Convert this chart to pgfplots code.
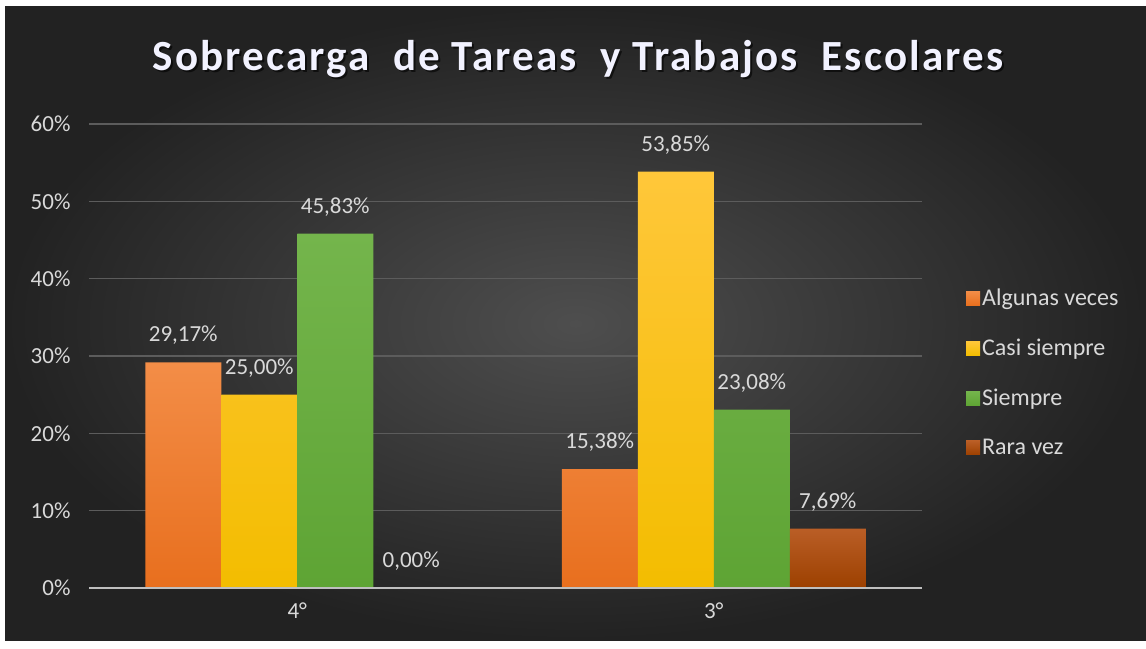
\documentclass[border=0pt]{standalone}
\usepackage{fontspec}
\setmainfont{Carlito}
\newfontfamily\titlefont[LetterSpace=5]{Carlito}
\usepackage{pgfplots}
\pgfplotsset{compat=1.18}
\definecolor{bgin}{HTML}{4E4E4E}
\definecolor{bgout}{HTML}{222222}
\definecolor{txt}{HTML}{D9D9D9}
\definecolor{gridc}{HTML}{5C5C5C}
\definecolor{axc}{HTML}{BFBFBF}
\definecolor{orT}{HTML}{F38D47}
\definecolor{orB}{HTML}{E86F1E}
\definecolor{yeT}{HTML}{FFC73A}
\definecolor{yeB}{HTML}{F3BD00}
\definecolor{grT}{HTML}{74B54C}
\definecolor{grB}{HTML}{5EA434}
\definecolor{brT}{HTML}{BA5E26}
\definecolor{brB}{HTML}{9C4000}
\begin{document}
\begin{tikzpicture}
\fill[white] (0pt,0pt) rectangle (1146pt,648pt);
\shade[inner color=bgin, outer color=bgout] (5pt,8pt) rectangle (1146pt,641pt);
\node[font=\fontsize{43}{50}\titlefont\bfseries, text=black, opacity=0.6] at (580pt,587pt) {Sobrecarga\ \ de Tareas\ \ y Trabajos\ \ Escolares};
\node[font=\fontsize{43}{50}\titlefont\bfseries, text=white!95!blue] at (578pt,589pt) {Sobrecarga\ \ de Tareas\ \ y Trabajos\ \ Escolares};
\begin{axis}[
  at={(89pt,60pt)}, anchor=south west,
  scale only axis, width=833pt, height=464pt,
  ybar=0pt, bar width=76pt,
  xmin=-0.5, xmax=1.5, ymin=0, ymax=60,
  xtick={0,1}, xticklabels={4°,3°},
  ytick={0,10,20,30,40,50,60},
  yticklabel={\pgfmathprintnumber{\tick}\%},
  /pgf/number format/assume math mode=true,
  ymajorgrids, grid style={gridc, line width=1.5pt},
  major tick length=0pt,
  axis line style={draw=none},
  axis x line*=bottom, axis y line*=left,
  ticklabel style={font=\fontsize{23}{27}\selectfont, text=txt},
  yticklabel style={xshift=-15pt},
  xticklabel style={yshift=-11pt},
  nodes near coords={\pgfmathprintnumber[use comma,fixed,fixed zerofill,precision=2]{\pgfplotspointmeta}\%},
  every node near coord/.append style={font=\fontsize{23}{27}\selectfont, text=txt, yshift=14pt},
  legend style={at={(1.0456,0.464)}, anchor=west, xshift=6pt, draw=none, fill=none,
    font=\fontsize{24}{28}\selectfont, text=txt, row sep=28pt, inner sep=0pt,
    nodes={inner sep=2pt}},
  legend cell align=left,
  legend image code/.code={\fill[#1] (0pt,-7pt) rectangle (14pt,7pt);},
  clip=false,
]
\addplot[draw=none, top color=orT, bottom color=orB] coordinates {(0,29.17) (1,15.38)};
\addplot[draw=none, top color=yeT, bottom color=yeB] coordinates {(0,25.00) (1,53.85)};
\addplot[draw=none, top color=grT, bottom color=grB] coordinates {(0,45.83) (1,23.08)};
\addplot[draw=none, top color=brT, bottom color=brB] coordinates {(0,0) (1,7.69)};
\legend{Algunas veces, Casi siempre, Siempre, Rara vez}
\draw[axc, line width=2pt] (axis cs:-0.5,0) -- (axis cs:1.5,0);
\end{axis}
\end{tikzpicture}
\end{document}
